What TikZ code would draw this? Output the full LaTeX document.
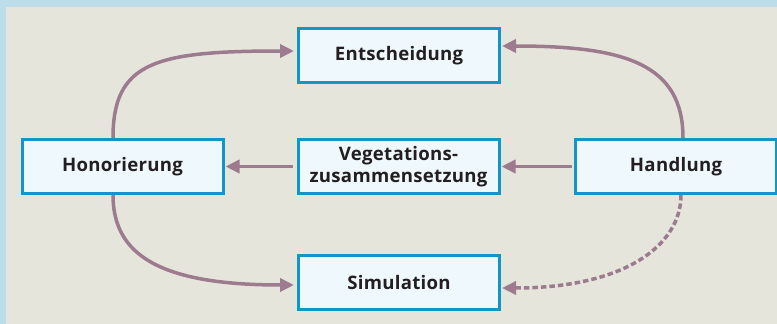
\documentclass[tikz,border=0pt]{standalone}
\usepackage{fontspec}
\setmainfont{Open Sans}[LetterSpace=1.5]
\usetikzlibrary{arrows.meta}
\definecolor{framebg}{HTML}{BEDDEB}
\definecolor{panelbg}{HTML}{E6E5DC}
\definecolor{boxline}{HTML}{1295C7}
\definecolor{boxfill}{HTML}{EEF8FD}
\definecolor{arrowc}{HTML}{9C7B8F}
\definecolor{txt}{HTML}{231F20}
\tikzset{
  box/.style={draw=boxline, fill=boxfill, line width=3pt, minimum width=201pt, minimum height=54pt,
    inner sep=0pt, align=center, text=txt, font=\fontsize{18.6}{22}\selectfont\bfseries},
  conn/.style={draw=arrowc, line width=3.5pt, -{Triangle[length=14pt,width=13pt]}},
  dashconn/.style={conn, dash pattern=on 5.5pt off 3pt}
}
\begin{document}
\begin{tikzpicture}[x=1pt,y=-1pt]
\useasboundingbox (0,0) rectangle (777,324);
\fill[framebg] (0,0) rectangle (777,324);
\fill[panelbg] (6,7) rectangle (777,324);
\clip (0,0) rectangle (777,324);
\node[box] (ent) at (399,55.5) {Entscheidung};
\node[box] (hon) at (122.5,166.5) {Honorierung};
\node[box] (veg) at (398.5,166.5) {Vegetations-\\zusammensetzung};
\node[box] (hand) at (676,166.5) {Handlung};
\node[box] (sim) at (399,282.5) {Simulation};
% curved arrows
\draw[conn, shorten >=3pt] ([xshift=-9.5pt]hon.north) .. controls (113,62) and (155,51) .. ([yshift=4.5pt]ent.west);
\draw[conn, shorten >=1pt] ([xshift=7pt]hand.north) .. controls (683,64) and (625,46) .. ([yshift=9.5pt]ent.east);
\draw[conn, shorten >=3pt] ([xshift=-9.5pt]hon.south) .. controls (113,255) and (160,285) .. ([yshift=-2.5pt]sim.west);
\draw[dashconn, shorten >=1pt] ([xshift=5pt]hand.south) .. controls (681,245) and (625,288) .. ([yshift=-5.5pt]sim.east);
% straight arrows
\draw[conn, shorten <=4pt, shorten >=1pt] (veg.west) -- (hon.east);
\draw[conn, shorten <=2pt, shorten >=1pt] (hand.west) -- (veg.east);
\end{tikzpicture}
\end{document}
